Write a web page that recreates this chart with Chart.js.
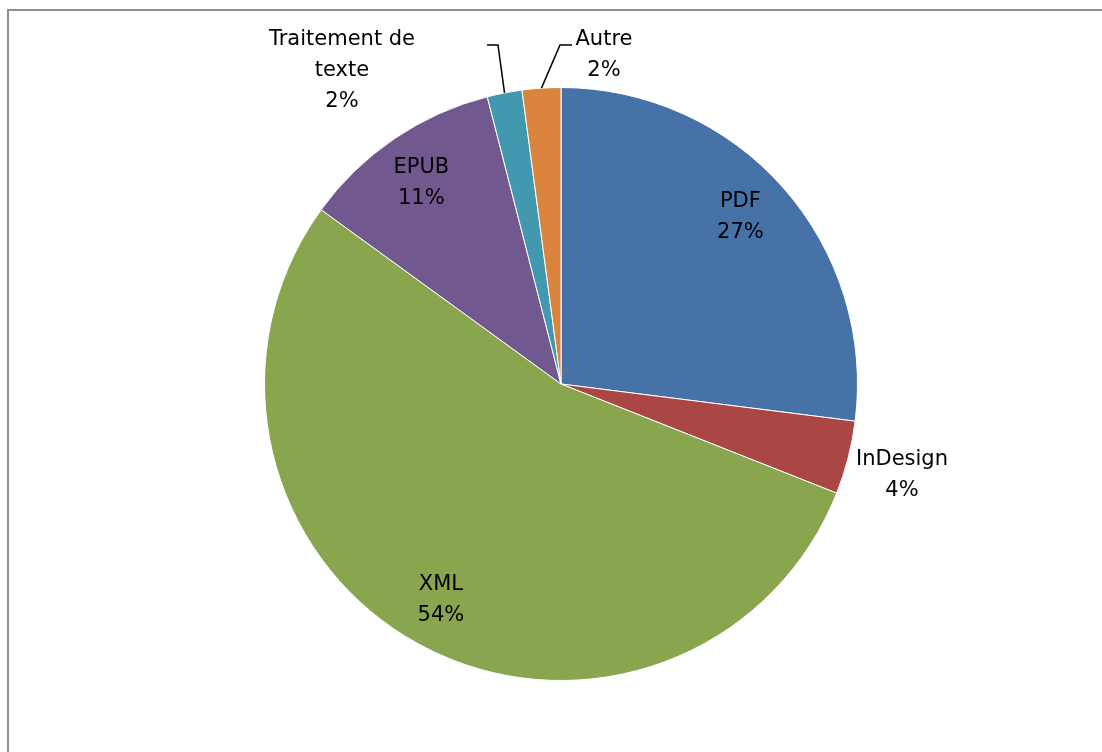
<!DOCTYPE html>
<html>
<head>
<meta charset="utf-8">
<script src="https://cdn.jsdelivr.net/npm/chart.js@4/dist/chart.umd.min.js"></script>
<style>
    body { margin: 0; background: #fff; overflow: hidden; }
    #chart { display: block; }
</style>
</head>
<body>
<canvas id="chart" width="1102" height="752"></canvas>
<script>
// Values
var categories = ['PDF', 'InDesign', 'XML', 'EPUB', 'Traitement de texte', 'Autre'];
var shares = [27, 4, 54, 11, 1.9, 2.1];
var sliceColors = ['#4672a8', '#aa4644', '#89a54e', '#71588f', '#4198af', '#db843d'];

// how each label is laid out: text lines, inside or outside, leader line
var labelLines = [['PDF'], ['InDesign'], ['XML'], ['EPUB'], ['Traitement de', 'texte'], ['Autre']];
var labelPlace = [
    { inside: true, dy: -6 },
    { x: 902, y: 460 },
    { inside: true, dy: 3 },
    { inside: true, dy: 0 },
    { x: 342, y: 40, leader: [[498, 45], [487, 45]] },
    { x: 604, y: 40, leader: [[560, 45], [572, 45]] }
];

// grey frame of the chart object, only left and top edges are in view
var chartFrame = {
    id: 'chartFrame',
    beforeDraw: function(chart) {
        var ctx = chart.ctx;
        ctx.save();
        ctx.strokeStyle = '#8f8f8f';
        ctx.lineWidth = 2;
        ctx.beginPath();
        ctx.moveTo(8, 752);
        ctx.lineTo(8, 10);
        ctx.lineTo(1102, 10);
        ctx.stroke();
        ctx.restore();
    }
};

var pieLabels = {
    id: 'pieLabels',
    afterDatasetsDraw: function(chart) {
        var ctx = chart.ctx;
        var meta = chart.getDatasetMeta(0);
        var total = shares.reduce(function(a, b) { return a + b; }, 0);
        ctx.save();
        ctx.font = '21px "DejaVu Sans", sans-serif';
        ctx.fillStyle = '#000';
        ctx.textAlign = 'center';
        ctx.textBaseline = 'middle';
        var lineH = 31;

        meta.data.forEach(function(arc, i) {
            var p = arc.getProps(['x', 'y', 'startAngle', 'endAngle', 'outerRadius'], true);
            var mid = (p.startAngle + p.endAngle) / 2;
            var lines = labelLines[i].concat([Math.round(shares[i] / total * 100) + '%']);
            var place = labelPlace[i];
            var x, y;

            if (place.inside) {
                var r = p.outerRadius * 0.82;
                x = p.x + Math.cos(mid) * r - 3;
                y = p.y + Math.sin(mid) * r - (lines.length - 1) * lineH / 2 + place.dy;
            } else {
                x = place.x;
                y = place.y;
            }

            if (place.leader) {
                ctx.beginPath();
                ctx.strokeStyle = '#000';
                ctx.lineWidth = 1.5;
                ctx.moveTo(p.x + Math.cos(mid) * p.outerRadius, p.y + Math.sin(mid) * p.outerRadius);
                place.leader.forEach(function(pt) { ctx.lineTo(pt[0], pt[1]); });
                ctx.stroke();
            }

            lines.forEach(function(t, k) {
                ctx.fillText(t, x, y + k * lineH);
            });
        });
        ctx.restore();
    }
};

var ctx = document.getElementById('chart').getContext('2d');
new Chart(ctx, {
    type: 'pie',
    data: {
        labels: categories,
        datasets: [{
            data: shares,
            backgroundColor: sliceColors,
            borderColor: '#ffffff',
            borderWidth: 1
        }]
    },
    options: {
        responsive: false,
        animation: false,
        layout: { padding: { left: 264, right: 244, top: 87, bottom: 71 } },
        plugins: {
            legend: { display: false },
            tooltip: { enabled: false }
        }
    },
    plugins: [chartFrame, pieLabels]
});
</script>
</body>
</html>
